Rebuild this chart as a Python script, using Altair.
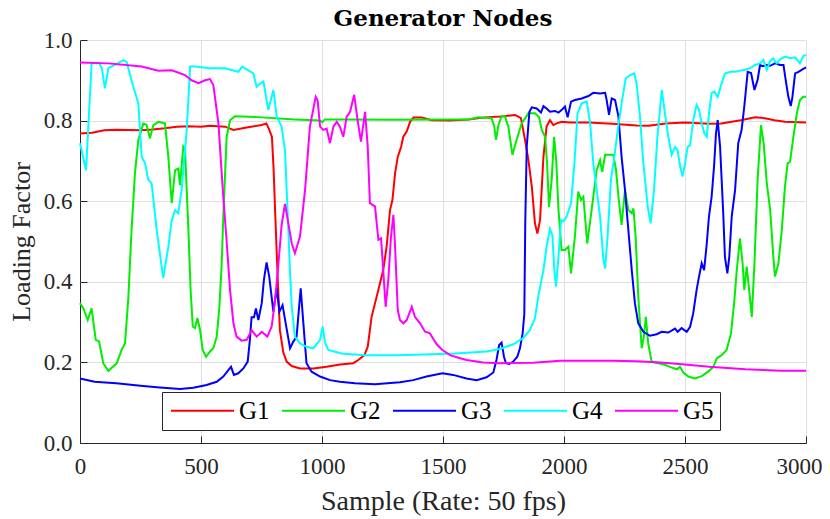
import altair as alt
import pandas as pd

SERIES = ["G1", "G2", "G3", "G4", "G5"]
COLORS = ["#ff0000", "#00ee00", "#0000ff", "#00ffff", "#ff00ff"]
XTICKS = [0, 500, 1000, 1500, 2000, 2500, 3000]
YTICKS = [0.0, 0.2, 0.4, 0.6, 0.8, 1.0]

G1_x = [0, 50, 100, 150, 250, 300, 350, 400, 450, 500, 537, 600, 634, 700, 751, 770, 780, 793, 800, 806,
        813, 819, 826, 840, 854, 875, 909, 964, 1019, 1074, 1129, 1150, 1175, 1189, 1205, 1233, 1253, 1267,
        1281, 1291, 1302, 1313, 1327, 1336, 1350, 1364, 1378, 1412, 1453, 1529, 1605, 1673, 1742, 1798, 1822,
        1839, 1853, 1867, 1880, 1890, 1901, 1915, 1928, 1942, 1956, 1970, 1990, 2025, 2100, 2200, 2300, 2350,
        2420, 2500, 2600, 2650, 2730, 2790, 2830, 2870, 2913, 3000]
G1_y = [0.768, 0.770, 0.776, 0.777, 0.776, 0.778, 0.781, 0.785, 0.786, 0.785, 0.787, 0.785, 0.777, 0.784,
        0.789, 0.793, 0.780, 0.760, 0.680, 0.580, 0.470, 0.380, 0.280, 0.225, 0.202, 0.191, 0.185, 0.185,
        0.189, 0.195, 0.198, 0.206, 0.218, 0.239, 0.313, 0.380, 0.429, 0.487, 0.578, 0.603, 0.669, 0.710,
        0.735, 0.760, 0.773, 0.797, 0.808, 0.808, 0.801, 0.800, 0.803, 0.808, 0.810, 0.814, 0.806, 0.752,
        0.702, 0.636, 0.545, 0.520, 0.553, 0.710, 0.785, 0.801, 0.789, 0.793, 0.797, 0.795, 0.795, 0.792,
        0.788, 0.787, 0.793, 0.795, 0.792, 0.793, 0.801, 0.808, 0.806, 0.801, 0.797, 0.795]

G2_x = [0, 14, 32, 48, 65, 79, 96, 117, 152, 172, 186, 200, 213, 227, 241, 262, 275, 289, 303, 324, 351,
        365, 379, 393, 406, 413, 427, 434, 448, 457, 466, 475, 485, 496, 507, 521, 537, 551, 565, 576, 585,
        592, 606, 620, 640, 751, 888, 992, 1001, 1012, 1100, 1300, 1500, 1605, 1646, 1701, 1712, 1719, 1729,
        1742, 1756, 1770, 1787, 1804, 1825, 1853, 1880, 1897, 1908, 1922, 1930, 1938, 1949, 1959, 1968, 1977,
        1990, 2004, 2018, 2029, 2045, 2059, 2070, 2080, 2096, 2114, 2135, 2149, 2158, 2170, 2190, 2204, 2215,
        2225, 2238, 2252, 2266, 2280, 2287, 2296, 2307, 2321, 2330, 2338, 2348, 2362, 2390, 2417, 2438, 2466,
        2479, 2493, 2514, 2541, 2569, 2596, 2617, 2631, 2651, 2672, 2690, 2703, 2714, 2727, 2738, 2745, 2755,
        2765, 2776, 2787, 2800, 2814, 2825, 2838, 2852, 2865, 2872, 2886, 2900, 2913, 2924, 2934, 2948, 2962,
        2975, 2989, 3000]
G2_y = [0.347, 0.334, 0.305, 0.334, 0.256, 0.252, 0.198, 0.179, 0.198, 0.231, 0.247, 0.363, 0.528, 0.669,
        0.752, 0.793, 0.789, 0.756, 0.789, 0.797, 0.793, 0.710, 0.595, 0.677, 0.681, 0.640, 0.735, 0.727,
        0.528, 0.380, 0.289, 0.285, 0.310, 0.281, 0.231, 0.214, 0.227, 0.235, 0.264, 0.338, 0.438, 0.560,
        0.760, 0.801, 0.811, 0.808, 0.803, 0.800, 0.796, 0.803, 0.803, 0.802, 0.803, 0.803, 0.808, 0.806,
        0.785, 0.752, 0.789, 0.811, 0.811, 0.785, 0.715, 0.752, 0.793, 0.818, 0.818, 0.808, 0.777, 0.760,
        0.694, 0.586, 0.653, 0.760, 0.700, 0.580, 0.479, 0.479, 0.487, 0.421, 0.512, 0.624, 0.603, 0.611,
        0.495, 0.578, 0.677, 0.702, 0.673, 0.715, 0.715, 0.715, 0.677, 0.611, 0.541, 0.628, 0.578, 0.570,
        0.582, 0.512, 0.363, 0.235, 0.264, 0.313, 0.247, 0.202, 0.198, 0.194, 0.189, 0.183, 0.189, 0.175,
        0.165, 0.160, 0.166, 0.177, 0.189, 0.210, 0.218, 0.231, 0.272, 0.347, 0.429, 0.508, 0.446, 0.380,
        0.438, 0.380, 0.313, 0.446, 0.653, 0.789, 0.744, 0.644, 0.578, 0.462, 0.413, 0.446, 0.528, 0.636,
        0.694, 0.698, 0.760, 0.818, 0.851, 0.859, 0.859]

G3_x = [0, 60, 150, 250, 330, 413, 468, 523, 565, 592, 613, 624, 636, 654, 675, 693, 702, 709, 719, 727,
        737, 751, 760, 771, 782, 799, 813, 824, 837, 851, 868, 881, 895, 912, 923, 936, 957, 992, 1033, 1074,
        1136, 1219, 1322, 1377, 1432, 1498, 1542, 1597, 1639, 1680, 1708, 1721, 1732, 1742, 1752, 1760, 1774,
        1790, 1807, 1818, 1829, 1836, 1840, 1846, 1857, 1867, 1887, 1905, 1915, 1928, 1942, 1963, 1977, 1990,
        2004, 2015, 2029, 2045, 2073, 2101, 2121, 2149, 2170, 2176, 2186, 2197, 2211, 2225, 2238, 2252, 2266,
        2280, 2293, 2307, 2328, 2355, 2383, 2404, 2431, 2459, 2470, 2486, 2507, 2521, 2534, 2548, 2558, 2569,
        2579, 2590, 2599, 2610, 2620, 2628, 2635, 2645, 2658, 2665, 2675, 2683, 2693, 2707, 2720, 2734, 2745,
        2759, 2773, 2787, 2800, 2810, 2821, 2838, 2852, 2872, 2893, 2907, 2916, 2927, 2937, 2944, 2955, 2969,
        2982, 3000]
G3_y = [0.160, 0.152, 0.148, 0.142, 0.138, 0.134, 0.137, 0.144, 0.152, 0.165, 0.181, 0.189, 0.169, 0.173,
        0.185, 0.202, 0.256, 0.312, 0.312, 0.334, 0.305, 0.347, 0.405, 0.448, 0.413, 0.326, 0.384, 0.326,
        0.342, 0.293, 0.235, 0.251, 0.264, 0.384, 0.297, 0.198, 0.177, 0.165, 0.156, 0.152, 0.148, 0.146,
        0.151, 0.156, 0.165, 0.173, 0.169, 0.160, 0.156, 0.163, 0.175, 0.206, 0.243, 0.249, 0.214, 0.198,
        0.196, 0.202, 0.214, 0.235, 0.272, 0.320, 0.550, 0.735, 0.822, 0.833, 0.830, 0.820, 0.836, 0.830,
        0.822, 0.824, 0.820, 0.826, 0.835, 0.808, 0.847, 0.851, 0.855, 0.861, 0.869, 0.867, 0.869, 0.852,
        0.814, 0.855, 0.851, 0.810, 0.710, 0.628, 0.528, 0.429, 0.347, 0.297, 0.276, 0.266, 0.270, 0.276,
        0.274, 0.284, 0.276, 0.285, 0.276, 0.288, 0.322, 0.380, 0.413, 0.446, 0.429, 0.495, 0.562, 0.611,
        0.686, 0.768, 0.801, 0.735, 0.570, 0.462, 0.421, 0.462, 0.562, 0.628, 0.744, 0.777, 0.835, 0.921,
        0.918, 0.876, 0.901, 0.938, 0.935, 0.938, 0.936, 0.942, 0.938, 0.938, 0.901, 0.859, 0.836, 0.859,
        0.917, 0.921, 0.926, 0.932]

G4_x = [0, 25, 40, 48, 80, 90, 103, 117, 150, 179, 193, 220, 241, 255, 269, 282, 296, 317, 344, 365, 379,
        393, 406, 420, 441, 455, 475, 537, 600, 654, 670, 716, 730, 740, 758, 778, 799, 813, 833, 847, 861,
        868, 875, 888, 909, 936, 964, 992, 1003, 1012, 1026, 1081, 1178, 1315, 1453, 1549, 1632, 1680, 1735,
        1790, 1831, 1859, 1880, 1894, 1915, 1928, 1942, 1952, 1960, 1967, 1977, 1988, 1997, 2011, 2029, 2043,
        2056, 2073, 2094, 2108, 2121, 2135, 2149, 2163, 2170, 2180, 2194, 2208, 2222, 2238, 2255, 2273, 2290,
        2300, 2314, 2328, 2346, 2358, 2372, 2386, 2404, 2417, 2431, 2445, 2459, 2470, 2480, 2490, 2500, 2511,
        2521, 2534, 2548, 2558, 2569, 2580, 2590, 2599, 2610, 2621, 2635, 2649, 2665, 2686, 2707, 2727, 2748,
        2769, 2789, 2810, 2824, 2838, 2852, 2865, 2879, 2893, 2913, 2934, 2955, 2975, 2989, 3000]
G4_y = [0.744, 0.677, 0.850, 0.942, 0.942, 0.930, 0.880, 0.930, 0.940, 0.950, 0.945, 0.884, 0.843, 0.710,
        0.694, 0.653, 0.644, 0.528, 0.409, 0.487, 0.553, 0.578, 0.570, 0.628, 0.777, 0.934, 0.934, 0.930,
        0.930, 0.921, 0.934, 0.917, 0.884, 0.890, 0.897, 0.826, 0.876, 0.810, 0.785, 0.727, 0.528, 0.421,
        0.338, 0.264, 0.247, 0.239, 0.235, 0.256, 0.289, 0.250, 0.231, 0.222, 0.218, 0.218, 0.220, 0.222,
        0.225, 0.227, 0.233, 0.245, 0.260, 0.280, 0.310, 0.365, 0.429, 0.487, 0.531, 0.515, 0.429, 0.388,
        0.462, 0.553, 0.550, 0.562, 0.595, 0.694, 0.818, 0.843, 0.847, 0.793, 0.694, 0.628, 0.562, 0.454,
        0.433, 0.512, 0.653, 0.710, 0.777, 0.843, 0.905, 0.913, 0.917, 0.892, 0.810, 0.694, 0.586, 0.545,
        0.628, 0.760, 0.876, 0.818, 0.760, 0.715, 0.735, 0.725, 0.686, 0.661, 0.694, 0.735, 0.739, 0.801,
        0.839, 0.827, 0.793, 0.768, 0.760, 0.818, 0.868, 0.872, 0.859, 0.888, 0.917, 0.921, 0.921, 0.924,
        0.926, 0.930, 0.938, 0.942, 0.950, 0.926, 0.948, 0.954, 0.942, 0.952, 0.959, 0.955, 0.957, 0.942,
        0.960, 0.963]

G5_x = [0, 117, 255, 324, 379, 434, 461, 490, 517, 537, 551, 572, 592, 606, 620, 634, 647, 668, 689, 709,
        730, 751, 774, 792, 806, 819, 833, 847, 861, 875, 888, 909, 930, 950, 974, 982, 992, 1005, 1019, 1033,
        1047, 1061, 1074, 1088, 1102, 1116, 1133, 1147, 1161, 1178, 1189, 1198, 1219, 1233, 1244, 1253, 1263,
        1274, 1285, 1295, 1302, 1313, 1322, 1336, 1350, 1371, 1384, 1405, 1426, 1446, 1460, 1474, 1495, 1529,
        1560, 1597, 1666, 1735, 1873, 1983, 2100, 2200, 2300, 2400, 2500, 2600, 2750, 2900, 3000]
G5_y = [0.944, 0.942, 0.934, 0.924, 0.925, 0.913, 0.900, 0.893, 0.900, 0.903, 0.888, 0.793, 0.611, 0.500,
        0.380, 0.297, 0.264, 0.254, 0.256, 0.280, 0.264, 0.276, 0.264, 0.289, 0.355, 0.438, 0.540, 0.593,
        0.545, 0.495, 0.471, 0.512, 0.628, 0.785, 0.859, 0.850, 0.785, 0.777, 0.780, 0.744, 0.785, 0.797,
        0.785, 0.760, 0.810, 0.822, 0.864, 0.801, 0.748, 0.822, 0.735, 0.595, 0.587, 0.504, 0.508, 0.429,
        0.338, 0.404, 0.512, 0.566, 0.487, 0.330, 0.305, 0.297, 0.305, 0.338, 0.313, 0.297, 0.276, 0.272,
        0.258, 0.245, 0.232, 0.218, 0.212, 0.206, 0.200, 0.198, 0.199, 0.204, 0.204, 0.204, 0.203, 0.200,
        0.195, 0.189, 0.183, 0.179, 0.179]

frames = []
for name, xs, ys in zip(SERIES, [G1_x, G2_x, G3_x, G4_x, G5_x], [G1_y, G2_y, G3_y, G4_y, G5_y]):
    frames.append(pd.DataFrame({"sample": xs, "value": ys, "series": name}))
df = pd.concat(frames, ignore_index=True)

SERIF = "Liberation Serif"
AX = "#262626"
GRID = "#dfdfdf"
W, H = 726, 403

xscale = alt.Scale(domain=[0, 3000], nice=False, zero=False)
yscale = alt.Scale(domain=[0, 1], nice=False, zero=False)

# Axes are shifted 7px into the plot so that their ticks point inwards (MATLAB style);
# the zero grid lines are drawn dark to act as the axis lines.
grid_color = alt.condition("datum.value == 0", alt.value(AX), alt.value(GRID))
# keep the last x label inside the page
last_label_shift = alt.condition("datum.value == 3000", alt.value(-7), alt.value(0))

lines = alt.Chart(df).mark_line(strokeWidth=2).encode(
    x=alt.X("sample:Q", scale=xscale,
            axis=alt.Axis(values=XTICKS, offset=-7, ticks=True, tickSize=7, tickColor=AX,
                          domain=False, labelPadding=12, grid=True, gridColor=grid_color,
                          labelExpr="datum.value", labelFlush=False, labelOffset=last_label_shift,
                          labelFont=SERIF, labelFontSize=23, labelColor=AX,
                          title="Sample (Rate:  50 fps)", titleFont=SERIF, titleFontSize=28,
                          titleFontWeight="normal", titleColor=AX, titlePadding=9)),
    y=alt.Y("value:Q", scale=yscale,
            axis=alt.Axis(values=YTICKS, format=".1f", offset=-7, ticks=True, tickSize=7,
                          tickColor=AX, domain=False, labelPadding=8, grid=True,
                          gridColor=grid_color,
                          labelFont=SERIF, labelFontSize=23, labelColor=AX,
                          title="Loading Factor", titleFont=SERIF, titleFontSize=26,
                          titleFontWeight="normal", titleColor=AX, titlePadding=9)),
    color=alt.Color("series:N", scale=alt.Scale(domain=SERIES, range=COLORS),
                    legend=alt.Legend(orient="none", legendX=82, legendY=352, direction="horizontal",
                                      columns=5, symbolType="M-3,0H3", symbolSize=441,
                                      symbolStrokeWidth=2, symbolOffset=22,
                                      labelFont=SERIF, labelFontSize=25,
                                      labelColor="black", labelOffset=24, columnPadding=8,
                                      padding=6, strokeColor=AX, fillColor="white", title=None)),
)

chart = lines.properties(
    width=W, height=H,
    title=alt.TitleParams("Generator Nodes", font="DejaVu Serif", fontSize=23, fontWeight="bold",
                          color="black", anchor="middle", offset=-2),
    padding={"left": 72, "top": 32, "right": 16, "bottom": 76},
    autosize=alt.AutoSizeParams(type="none"),
).configure_view(strokeWidth=0)

chart.save("out.html", embed_options={"renderer": "svg", "actions": False})
